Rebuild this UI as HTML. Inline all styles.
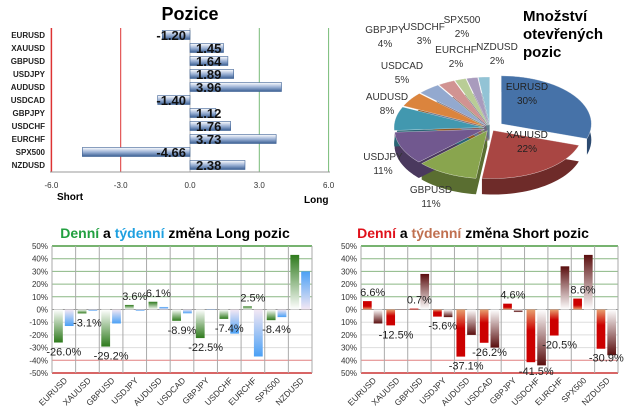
<!DOCTYPE html>
<html><head><meta charset="utf-8"><style>
body{margin:0;background:#fff;width:627px;height:417px;overflow:hidden;font-family:"Liberation Sans",sans-serif}
svg{position:absolute;left:0;top:0}
</style></head><body>
<svg id="s" width="627" height="417" viewBox="0 0 627 417">
<defs>
<linearGradient id="gBar" x1="0" y1="0" x2="0" y2="1"><stop offset="0" stop-color="#fff"/><stop offset="0.5" stop-color="#9db3d6"/><stop offset="1" stop-color="#3b5f93"/></linearGradient>
<linearGradient id="gGreenN" x1="0" y1="0" x2="0" y2="1"><stop offset="0" stop-color="#fff"/><stop offset="1" stop-color="#2e7a1c"/></linearGradient>
<linearGradient id="gGreenP" x1="0" y1="1" x2="0" y2="0"><stop offset="0" stop-color="#fff"/><stop offset="1" stop-color="#2e7a1c"/></linearGradient>
<linearGradient id="gBlueN" x1="0" y1="0" x2="0" y2="1"><stop offset="0" stop-color="#f4e8f4"/><stop offset="1" stop-color="#4aa0f5"/></linearGradient>
<linearGradient id="gBlueP" x1="0" y1="1" x2="0" y2="0"><stop offset="0" stop-color="#f4e8f4"/><stop offset="1" stop-color="#4aa0f5"/></linearGradient>
<linearGradient id="gRedN" x1="0" y1="0" x2="0" y2="1"><stop offset="0" stop-color="#e8a070"/><stop offset="0.4" stop-color="#cc0000"/><stop offset="1" stop-color="#cc0000"/></linearGradient>
<linearGradient id="gRedP" x1="0" y1="1" x2="0" y2="0"><stop offset="0" stop-color="#e8a070"/><stop offset="0.4" stop-color="#cc0000"/><stop offset="1" stop-color="#cc0000"/></linearGradient>
<linearGradient id="gBrN" x1="0" y1="0" x2="0" y2="1"><stop offset="0" stop-color="#fff"/><stop offset="1" stop-color="#5a0e0e"/></linearGradient>
<linearGradient id="gBrP" x1="0" y1="1" x2="0" y2="0"><stop offset="0" stop-color="#fff"/><stop offset="1" stop-color="#5a0e0e"/></linearGradient>
</defs>
<text x="190" y="20" text-anchor="middle" font-size="18" font-weight="bold">Pozice</text>
<text x="57" y="200" font-size="10" font-weight="bold">Short</text>
<text x="304" y="203" font-size="10" font-weight="bold">Long</text>
<text font-size="15" font-weight="bold"><tspan x="523" y="21">Množství</tspan><tspan x="523" y="39">otevřených</tspan><tspan x="523" y="57">pozic</tspan></text>
<text x="175" y="238" text-anchor="middle" font-size="14" font-weight="bold"><tspan fill="#22a040">Denní</tspan> a <tspan fill="#1fa0e0">týdenní</tspan> změna Long pozic</text>
<text x="473" y="238" text-anchor="middle" font-size="14" font-weight="bold"><tspan fill="#e0101a">Denní</tspan> a <tspan fill="#c07050">týdenní</tspan> změna Short pozic</text>
</svg>
<script>
const symbols=["EURUSD","XAUUSD","GBPUSD","USDJPY","AUDUSD","USDCAD","GBPJPY","USDCHF","EURCHF","SPX500","NZDUSD"];
const positionValues=[-1.20,1.45,1.64,1.89,3.96,-1.40,1.12,1.76,3.73,-4.66,2.38];
const positionTicks=[-6,-3,0,3,6];
const pieLabels=["EURUSD","XAUUSD","GBPUSD","USDJPY","AUDUSD","USDCAD","GBPJPY","USDCHF","EURCHF","SPX500","NZDUSD"];
const pieShares=[30,22,11,11,8,5,4,3,2,2,2];
const longDaily=[-26.0,-3.1,-29.2,3.6,6.1,-8.9,-22.5,-7.4,2.5,-8.4,43.0];
const longWeekly=[-13,-1,-11,-1,2,-3,0,-19,-37,-6,30];
const shortDaily=[6.6,-12.5,0.7,-5.6,-37.1,-26.2,4.6,-41.5,-20.5,8.6,-30.9];
const shortWeekly=[-11,0,28,-6,-20,-30,-2,-44,34,43,-36];
const pctTicks=[50,40,30,20,10,0,-10,-20,-30,-40,-50];

const S=document.getElementById('s');const NS="http://www.w3.org/2000/svg";
function el(t,a,p){const e=document.createElementNS(NS,t);for(const k in a)e.setAttribute(k,a[k]);(p||S).appendChild(e);return e;}

// ---- Pozice chart
const px=v=>190+v*23.1, py=i=>35+i*13;
positionTicks.forEach(t=>{
  const l=el('line',{x1:px(t),x2:px(t),y1:28,y2:172,stroke:t<0?'#d33':(t>0?'#7b7':'#bbb'),'stroke-width':t===-6?1.5:1});
  
  
  const tx=el('text',{x:px(t),y:188,'text-anchor':'middle','font-size':8,fill:'#333'});tx.textContent=t.toFixed(1);
  
  
});
el('line',{x1:50,x2:330,y1:172,y2:172,stroke:'#999'});
symbols.forEach((s,i)=>{
  const v=positionValues[i],y=py(i);
  const t=el('text',{x:45,y:y+3,'text-anchor':'end','font-size':8,'font-weight':'bold',fill:'#222'});t.textContent=s;
  
  
  const x0=Math.min(px(0),px(v)),w=Math.abs(px(v)-px(0));
  const r=el('rect',{x:x0,y:y-4.5,width:w,height:9,fill:'url(#gBar)',stroke:'#3b5f93','stroke-width':0.6});
  
  
  const vt=el('text',{x:v>=0?196:186,y:y+5,'text-anchor':v>=0?'start':'end','font-size':13,'font-weight':'bold',fill:'#111'});vt.textContent=v.toFixed(2);
  
  
});

// ---- Pie
const pieColors=["#4672a8","#a94643","#89a54e","#71588f","#4298af","#db843d","#93a9cf","#d19392","#b9cd96","#a99bbd","#92c3d5"];
const sideColors=["#2c4a70","#6e2b29","#5a6e31","#4a395e","#2a6474","#92561f","#60708a","#8a5f5e","#7a8862","#6f667d","#5f818d"];
const labelPos=[[527,90],[527,138],[431,193],[383,160],[387,100],[402,69],[385,33],[424,30],[456,53],[462,23],[497,50]];
const cx=490,cy=128,rx=90,ry=48,dep=16;
let tot=pieShares.reduce((a,b)=>a+b,0),acc=0;const slices=[];
pieShares.forEach((v,i)=>{const a0=-Math.PI/2+acc/tot*2*Math.PI;acc+=v;const a1=-Math.PI/2+acc/tot*2*Math.PI;
  const mid=(a0+a1)/2,ex=i===0?14:6;slices.push({i,a0,a1,ox:Math.cos(mid)*ex,oy:Math.sin(mid)*ex*0.5});});
function arcPts(s,dy){const p=[];const n=30;for(let k=0;k<=n;k++){const a=s.a0+(s.a1-s.a0)*k/n;p.push([cx+s.ox+rx*Math.cos(a),cy+s.oy+ry*Math.sin(a)+dy]);}return p;}
slices.forEach(s=>{const top=arcPts(s,0),bot=arcPts(s,dep).reverse();const c=[cx+s.ox,cy+s.oy];
  const pts=[c,top[0],...top,...bot,[c[0],c[1]+dep]].map(p=>p.join(',')).join(' ');
  const side=el('polygon',{points:pts,fill:sideColors[s.i]});
  
  });
slices.forEach(s=>{const top=arcPts(s,0);const c=[cx+s.ox,cy+s.oy];
  const pts=[c,...top].map(p=>p.join(',')).join(' ');
  const t=el('polygon',{points:pts,fill:pieColors[s.i],stroke:'#fff','stroke-width':0.3});
  
  });
pieLabels.forEach((n,i)=>{const [x,y]=labelPos[i];
  const t=el('text',{x:x,y:y,'text-anchor':'middle','font-size':10,fill:i<2?'#222':'#333'});
  t.innerHTML='<tspan x="'+x+'">'+n+'</tspan><tspan x="'+x+'" dy="14">'+pieShares[i]+'%</tspan>';
  
  });

// ---- Bar change charts
function changeChart(L,R,daily,weekly,gd,gw,neglabels,prefix){
  const top=246,bot=373,cw=(R-L)/symbols.length;
  const y=v=>top+(50-v)/100*(bot-top);
  pctTicks.forEach(t=>{
    let col='#ddd';if(t>0)col='#5a9a50';if(t===50)col='#4a9a40';if(t<=-40)col='#e08080';if(t===-50)col='#cc3333';if(t===0)col='#999';
    const l=el('line',{x1:L,x2:R,y1:y(t),y2:y(t),stroke:col,'stroke-width':(t===-50||t===50)?1.5:1,opacity:t>0&&t<50?0.7:1});
    
    
    const tx=el('text',{x:L-4,y:y(t)+3,'text-anchor':'end','font-size':8,fill:'#333'});tx.textContent=(neglabels?t:Math.abs(t))+'%';
    
    
  });
  for(let k=0;k<=symbols.length;k++){const l=el('line',{x1:L+k*cw,x2:L+k*cw,y1:top,y2:bot,stroke:'#aaa'});
    
    }
  symbols.forEach((s,i)=>{
    const x0=L+i*cw;
    [[daily[i],gd,2],[weekly[i],gw,cw/2+1]].forEach(([v,g,off],j)=>{
      const y0=Math.min(y(0),y(v)),h=Math.abs(y(v)-y(0));
      const r=el('rect',{x:x0+off,y:y0,width:cw/2-3,height:Math.max(h,0.5),fill:'url(#'+g+(v<0?'N':'P')+')'});
      
      
    });
    const v=daily[i];
    if(Math.abs(v)<42){const t=el('text',{x:x0+cw/2,y:v<0?y(v)+13:y(v)-5,'text-anchor':'middle','font-size':11,fill:'#222'});
      t.textContent=v.toFixed(1)+'%';
      
      }
    const ct=el('text',{x:0,y:0,'text-anchor':'end','font-size':8.5,fill:'#333',transform:'translate('+(x0+cw/2+4)+','+(bot+8)+') rotate(-45)'});
    ct.textContent=s;
    
    
  });
}
changeChart(52,312,longDaily,longWeekly,'gGreen','gBlue',true,'long-change');
changeChart(361,618,shortDaily,shortWeekly,'gRed','gBr',false,'short-change');
</script>
</body></html>
